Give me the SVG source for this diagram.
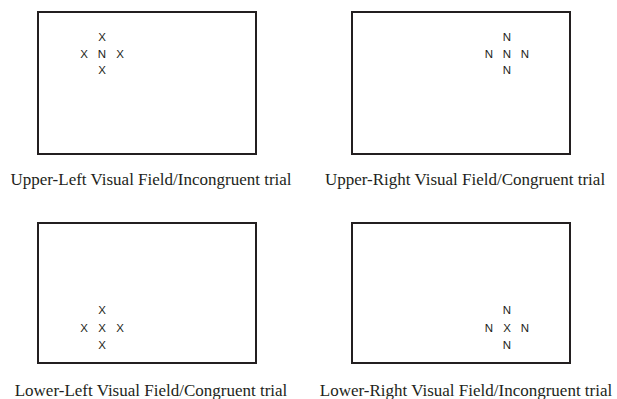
<svg xmlns="http://www.w3.org/2000/svg" width="617" height="399" viewBox="0 0 617 399">
<style>
.box{fill:#fff;stroke:#231f20;stroke-width:2}
.s{font-family:"Liberation Sans",Arial,sans-serif;font-size:11.5px;fill:#231f20;text-anchor:middle}
.cap{font-family:"Liberation Serif","Times New Roman",serif;font-size:17px;fill:#231f20;text-anchor:middle}
</style>
<rect width="617" height="399" fill="#fff"/>
<g id="upper-left">
<rect class="box" x="38" y="12" width="218" height="142"/>
<text class="s" x="102" y="41">X</text>
<text class="s" x="84" y="57.5">X</text>
<text class="s" x="102" y="57.5">N</text>
<text class="s" x="120" y="57.5">X</text>
<text class="s" x="102" y="74">X</text>
<text class="cap" x="151" y="185">Upper-Left Visual Field/Incongruent trial</text>
</g>
<g id="upper-right">
<rect class="box" x="352" y="12" width="218" height="142"/>
<text class="s" x="507" y="41">N</text>
<text class="s" x="489" y="57.5">N</text>
<text class="s" x="507" y="57.5">N</text>
<text class="s" x="525" y="57.5">N</text>
<text class="s" x="507" y="74">N</text>
<text class="cap" x="465" y="185">Upper-Right Visual Field/Congruent trial</text>
</g>
<g id="lower-left">
<rect class="box" x="38" y="223" width="218" height="140"/>
<text class="s" x="102" y="314">X</text>
<text class="s" x="84" y="331.5">X</text>
<text class="s" x="102" y="331.5">X</text>
<text class="s" x="120" y="331.5">X</text>
<text class="s" x="102" y="349">X</text>
<text class="cap" x="151" y="396">Lower-Left Visual Field/Congruent trial</text>
</g>
<g id="lower-right">
<rect class="box" x="352" y="223" width="218" height="140"/>
<text class="s" x="507" y="314">N</text>
<text class="s" x="489" y="331.5">N</text>
<text class="s" x="507" y="331.5">X</text>
<text class="s" x="525" y="331.5">N</text>
<text class="s" x="507" y="349">N</text>
<text class="cap" x="466" y="396">Lower-Right Visual Field/Incongruent trial</text>
</g>
<g id="connectors"></g>
</svg>
